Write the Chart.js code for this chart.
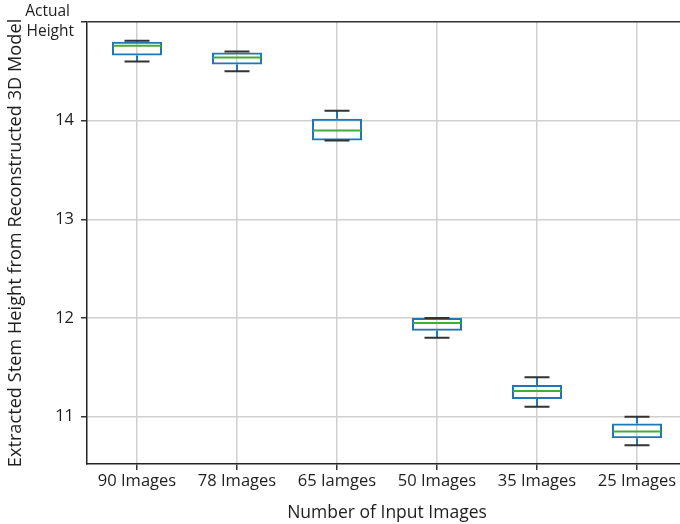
<!DOCTYPE html>
<html>
<head>
<meta charset="utf-8">
<script src="https://cdn.jsdelivr.net/npm/chart.js@4/dist/chart.umd.min.js"></script>
<style>
  html, body { margin: 0; padding: 0; background: #fff; overflow: hidden; }
</style>
</head>
<body>
<canvas id="boxChart" width="700" height="524"></canvas>
<script>
const categories = ['90 Images', '78 Images', '65 Iamges', '50 Images', '35 Images', '25 Images'];
const whiskerLow = [14.60, 14.50, 13.80, 11.80, 11.10, 10.71];
const q1 = [14.66, 14.57, 13.80, 11.87, 11.18, 10.78];
const median = [14.76, 14.64, 13.90, 11.95, 11.26, 10.85];
const q3 = [14.80, 14.69, 14.02, 12.00, 11.32, 10.93];
const whiskerHigh = [14.81, 14.70, 14.10, 12.00, 11.40, 11.00];
const yTicks = [11, 12, 13, 14, 15];

const FONT = "'Open Sans', sans-serif";
const TEXT = '#1e1e1e';

// whiskers, caps and medians drawn on top of the box bars
const boxExtras = {
    id: 'boxExtras',
    afterDatasetsDraw(chart) {
        const ctx = chart.ctx;
        const x = chart.scales.x;
        const y = chart.scales.y;
        const step = x.getPixelForValue(1) - x.getPixelForValue(0);
        const boxHalf = step * 0.25;
        const capHalf = step * 0.125;
        ctx.save();
        ctx.lineWidth = 2;
        categories.forEach((c, i) => {
            const cx = x.getPixelForValue(i);
            // whiskers
            ctx.strokeStyle = '#1f77b4';
            ctx.beginPath();
            ctx.moveTo(cx, y.getPixelForValue(q3[i]));
            ctx.lineTo(cx, y.getPixelForValue(whiskerHigh[i]));
            ctx.moveTo(cx, y.getPixelForValue(q1[i]));
            ctx.lineTo(cx, y.getPixelForValue(whiskerLow[i]));
            ctx.stroke();
            // caps
            ctx.strokeStyle = '#333';
            ctx.beginPath();
            [whiskerHigh[i], whiskerLow[i]].forEach(v => {
                const py = y.getPixelForValue(v);
                ctx.moveTo(cx - capHalf, py);
                ctx.lineTo(cx + capHalf, py);
            });
            ctx.stroke();
            // median
            ctx.strokeStyle = '#3fae3a';
            ctx.beginPath();
            const my = y.getPixelForValue(median[i]);
            ctx.moveTo(cx - boxHalf + 1, my);
            ctx.lineTo(cx + boxHalf - 1, my);
            ctx.stroke();
        });
        ctx.restore();
    }
};

new Chart(document.getElementById('boxChart').getContext('2d'), {
    type: 'bar',
    data: {
        labels: categories,
        datasets: [{
            label: 'IQR',
            data: categories.map((c, i) => [q1[i], q3[i]]),
            backgroundColor: 'rgba(0,0,0,0)',
            borderColor: '#1f77b4',
            borderWidth: 2,
            borderSkipped: false,
            barPercentage: 0.5,
            categoryPercentage: 1.0
        }]
    },
    options: {
        responsive: false,
        animation: false,
        layout: { padding: { top: 22, right: 13, left: 0, bottom: 0 } },
        plugins: {
            legend: { display: false },
            tooltip: { enabled: false }
        },
        scales: {
            x: {
                offset: true,
                afterFit: scale => { scale.height = 60; },
                grid: {
                    offset: false,
                    color: '#d0d0d0',
                    lineWidth: 1.5,
                    tickColor: '#333',
                    tickLength: 6
                },
                border: { color: '#222', width: 1.5 },
                ticks: {
                    color: TEXT,
                    padding: 1,
                    maxRotation: 0,
                    font: { family: FONT, size: 16.5 }
                },
                title: {
                    display: true,
                    text: 'Number of Input Images',
                    color: TEXT,
                    padding: { top: 10, bottom: 0 },
                    font: { family: FONT, size: 17.5 }
                }
            },
            y: {
                min: 10.52,
                max: 15,
                afterFit: scale => {
                    scale.width = 87;
                    scale.paddingTop = 0;
                    scale.paddingBottom = 0;
                },
                afterBuildTicks: scale => { scale.ticks = yTicks.map(v => ({ value: v })); },
                grid: {
                    color: c => c.tick && c.tick.value === 15 ? '#333' : '#d0d0d0',
                    lineWidth: 1.5,
                    tickColor: '#333',
                    tickLength: 6
                },
                border: { color: '#222', width: 1.5 },
                ticks: {
                    color: TEXT,
                    padding: 7,
                    callback: v => v === 15 ? ['Actual ', 'Height'] : v,
                    font: c => c.tick && c.tick.value === 15
                        ? { family: FONT, size: 15.5, lineHeight: 1.3 }
                        : { family: FONT, size: 16.5 }
                },
                title: {
                    display: true,
                    text: 'Extracted Stem Height from Reconstructed 3D Model',
                    color: TEXT,
                    padding: { top: 5, bottom: 0 },
                    font: { family: FONT, size: 18.2 }
                }
            }
        }
    },
    plugins: [boxExtras]
});
</script>
</body>
</html>
